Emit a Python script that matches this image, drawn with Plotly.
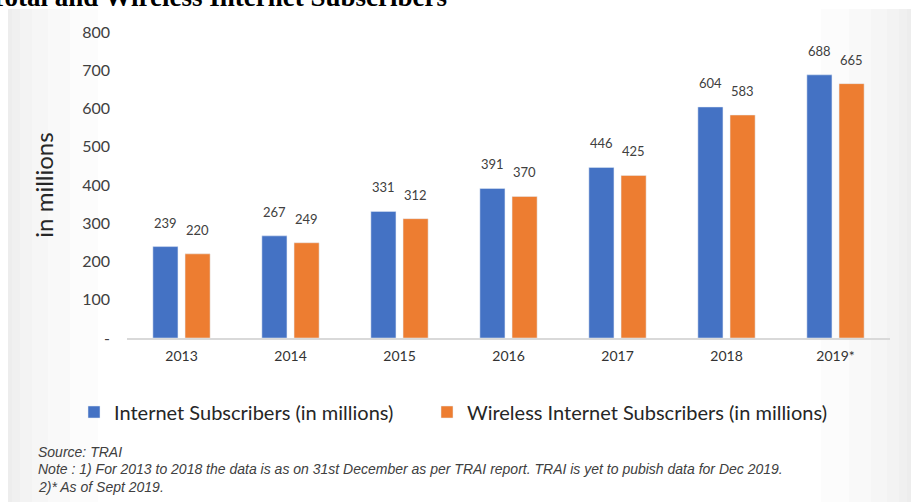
import plotly.graph_objects as go

years = ["2013", "2014", "2015", "2016", "2017", "2018", "2019*"]
internet = [239, 267, 331, 391, 446, 604, 688]
wireless = [220, 249, 312, 370, 425, 583, 665]
series_names = ["Internet Subscribers (in millions)", "Wireless Internet Subscribers (in millions)"]
y_ticks = [0, 100, 200, 300, 400, 500, 600, 700, 800]
y_ticktext = ["-", "100", "200", "300", "400", "500", "600", "700", "800"]

BLUE = "#4472C4"
ORANGE = "#ED7D31"
W, H = 911, 502
L, R, T, B = 127, 21, 32, 164
PW, PH = W - L - R, H - T - B

def px(xpix):
    return (xpix - L) / PW

def py(ypix):
    return (H - B - ypix) / PH

fig = go.Figure()
fig.add_trace(go.Bar(x=years, y=internet, name=series_names[0], marker_color=BLUE, legend="legend"))
fig.add_trace(go.Bar(x=years, y=wireless, name=series_names[1], marker_color=ORANGE, legend="legend2"))

annotations = []
for i, v in enumerate(internet):
    annotations.append(dict(x=i, y=v, xref="x", yref="y", text=str(v), showarrow=False,
                            xshift=-16, yshift=14, yanchor="bottom",
                            font=dict(family="Lato", size=13, color="#404040")))
for i, v in enumerate(wireless):
    annotations.append(dict(x=i, y=v, xref="x", yref="y", text=str(v), showarrow=False,
                            xshift=16, yshift=14, yanchor="bottom",
                            font=dict(family="Lato", size=13, color="#404040")))

# Title (cut off at top in the reference)
annotations.append(dict(x=px(-13), y=py(-3), xref="paper", yref="paper", xanchor="left", yanchor="middle",
                        text="<b>Total and Wireless Internet Subscribers</b>", showarrow=False,
                        font=dict(family="Liberation Serif", size=27, color="#000")))

notes = ["Source: TRAI",
         "Note : 1) For 2013 to 2018 the data is as on 31st December as per TRAI report. TRAI is yet to pubish data for Dec 2019.",
         "2)* As of Sept 2019."]
for t, yp in zip(notes, [452, 469, 487]):
    annotations.append(dict(x=px(36), y=py(yp), xref="paper", yref="paper", xanchor="left", yanchor="middle",
                            text="<i>" + t + "</i>", showarrow=False,
                            font=dict(family="Liberation Sans", size=14, color="#404040")))

shapes = []
# subtle gray gradient at edges of the chart image
for w in [4, 12, 24, 40, 62, 90]:
    shapes.append(dict(type="rect", xref="paper", yref="paper", x0=px(8), x1=px(8 + w), y0=py(502), y1=py(9),
                       fillcolor="rgba(0,0,0,0.011)", line=dict(width=0), layer="below"))
for w in [4, 12, 24, 40, 62, 90]:
    shapes.append(dict(type="rect", xref="paper", yref="paper", x0=px(911 - w), x1=px(911), y0=py(502), y1=py(9),
                       fillcolor="rgba(0,0,0,0.011)", line=dict(width=0), layer="below"))

legend_common = dict(orientation="h", yanchor="middle", xanchor="left",
                     font=dict(family="Lato", size=20, color="#262626"), bgcolor="rgba(0,0,0,0)",
                     itemwidth=30)

fig.update_layout(
    width=W, height=H,
    margin=dict(l=L, r=R, t=T, b=B, autoexpand=False),
    paper_bgcolor="#ffffff", plot_bgcolor="rgba(0,0,0,0)",
    barmode="group", bargap=0.41, bargroupgap=0.22,
    font=dict(family="Lato", color="#404040"),
    showlegend=True,
    legend=dict(x=px(74), y=py(412), **legend_common),
    legend2=dict(x=px(427), y=py(412), **legend_common),
    annotations=annotations,
    shapes=shapes,
)
fig.update_xaxes(type="category", range=[-0.5, len(years) - 0.5], showline=True, linecolor="#d9d9d9",
                 linewidth=2, ticks="", ticklabelstandoff=4,
                 tickfont=dict(family="Lato", size=14, color="#333333"), showgrid=False)
fig.update_yaxes(range=[0, 800], tickvals=y_ticks, ticktext=y_ticktext, showgrid=False, zeroline=False,
                 showline=False, ticks="", ticklabelstandoff=16,
                 tickfont=dict(family="Lato", size=16, color="#404040"),
                 title=dict(text="in millions", font=dict(family="Lato", size=24, color="#262626"), standoff=21))

fig.write_html("out.html", config={"displayModeBar": False},
               post_script="document.body.style.margin='0';")
